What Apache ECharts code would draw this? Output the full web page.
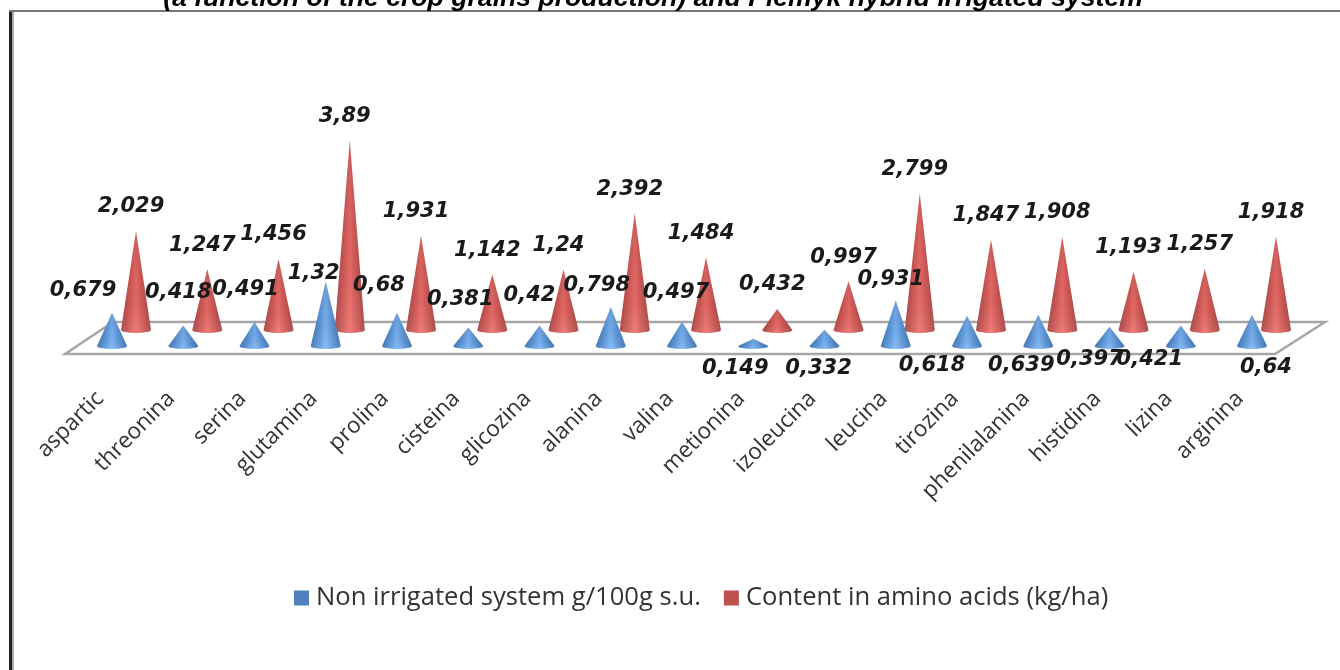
<!DOCTYPE html>
<html>
<head>
<meta charset="utf-8">
<title>amino acids</title>
<style>
	html,body{margin:0;padding:0;background:#fff;}
	#main{width:1340px;height:670px;filter:blur(0.5px);}
</style>
</head>
<body>
<div id="main"></div>
<script src="https://cdn.jsdelivr.net/npm/echarts@6/dist/echarts.min.js"></script>
<script>
var categories = ['aspartic','threonina','serina','glutamina','prolina','cisteina','glicozina','alanina','valina','metionina','izoleucina','leucina','tirozina','phenilalanina','histidina','lizina','arginina'];
var nonIrrigated = [0.679,0.418,0.491,1.32,0.68,0.381,0.42,0.798,0.497,0.149,0.332,0.931,0.618,0.639,0.397,0.421,0.64];
var aminoContent = [2.029,1.247,1.456,3.89,1.931,1.142,1.24,2.392,1.484,0.432,0.997,2.799,1.847,1.908,1.193,1.257,1.918];

// label offsets from the cone tip, picked by eye
var blueLabelDx = [-29,-5,-9,-12,-18,-8,-10,-14,-6,-18,-6,-5,-35,-17,-20,-31,14];
var blueLabelDy = [-22,-33,-32,-8,-27,-28,-30,-22,-29,30,39,-21,50,51,33,34,53];

var titleText = '(a function of the crop grains production) and Plemyk hybrid irrigated system';
var legendBlue = 'Non irrigated system g/100g s.u.';
var legendRed = 'Content in amino acids (kg/ha)';

function fmt(v){
	return String(v).replace('.', ',');
}

function coneItem(colors, dxList, dyList){
	return function(params, api){
		var i = api.value(0);
		var val = api.value(1);
		var tip = api.coord([i, val]);
		var base = api.coord([i, 0]);
		var w = 15, h = 3;
		var x = base[0], y = base[1];
		var path = 'M' + x + ' ' + tip[1] + 'L' + (x + w) + ' ' + y +
			'A' + w + ' ' + h + ' 0 0 1 ' + (x - w) + ' ' + y + 'Z';
		var side = new echarts.graphic.LinearGradient(0, 0, 1, 0, [
			{offset:0, color:colors[0]},
			{offset:0.5, color:colors[1]},
			{offset:1, color:colors[0]}
		]);
		var shade = new echarts.graphic.LinearGradient(0, 0, 0, 1, [
			{offset:0, color:'rgba(0,0,0,0.14)'},
			{offset:0.6, color:'rgba(0,0,0,0.06)'},
			{offset:1, color:'rgba(255,255,255,0.1)'}
		]);
		return {
			type:'group',
			children:[
				{type:'path', shape:{pathData:path}, style:{fill:side}},
				{type:'path', shape:{pathData:path}, style:{fill:shade}},
				{type:'text', z2:10, style:{
					text:fmt(val),
					x:x + dxList[i], y:tip[1] + dyList[i],
					align:'center', verticalAlign:'middle',
					font:'italic bold 21px "DejaVu Sans"',
					fill:'#1a1a1a'
				}}
			]
		};
	};
}

function rows(list){
	return list.map(function(v, i){ return [i, v]; });
}

var redDx = aminoContent.map(function(){ return -5; });
var redDy = aminoContent.map(function(){ return -24; });

var chart = echarts.init(document.getElementById('main'));
chart.setOption({
	animation:false,
	backgroundColor:'#fff',
	title:{
		text:titleText, left:648, top:-20, textAlign:'center',
		textStyle:{fontFamily:'Liberation Sans', fontStyle:'italic', fontWeight:'bold', fontSize:26.6, color:'#000'}
	},
	legend:{
		left:289, top:580, itemWidth:15, itemHeight:15, itemGap:23, icon:'rect',
		textStyle:{fontFamily:'Open Sans', fontSize:25.6, color:'#333', padding:[0,0,0,2]},
		data:[legendBlue, legendRed]
	},
	grid:[
		{left:76.4, top:102, width:1211.25, height:244},
		{left:100.4, top:86, width:1211.25, height:244}
	],
	xAxis:[
		{gridIndex:0, type:'category', data:categories,
			axisLine:{show:false}, axisTick:{show:false},
			axisLabel:{interval:0, rotate:45, margin:37, padding:[0,17,0,0], fontFamily:'Open Sans', fontSize:22.5, color:'#333'}},
		{gridIndex:1, type:'category', data:categories, show:false}
	],
	yAxis:[
		{gridIndex:0, type:'value', min:0, max:5, show:false, splitLine:{show:false}},
		{gridIndex:1, type:'value', min:0, max:5, show:false, splitLine:{show:false}}
	],
	series:[
		{name:legendRed, type:'custom', xAxisIndex:1, yAxisIndex:1, z:2, clip:false,
			itemStyle:{color:'#c0504d'},
			renderItem:coneItem(['#a83f3d','#f06e6a'], redDx, redDy), data:rows(aminoContent)},
		{name:legendBlue, type:'custom', xAxisIndex:0, yAxisIndex:0, z:3, clip:false,
			itemStyle:{color:'#4f81bd'},
			renderItem:coneItem(['#3a70b4','#7cb8fa'], blueLabelDx, blueLabelDy), data:rows(nonIrrigated)}
	],
	graphic:[
		// floor
		{type:'polygon', z:0, shape:{points:[[65,354],[113,322],[1325,322],[1275,354]]},
			style:{fill:'#fff', stroke:'#a6a6a6', lineWidth:2.5}},
		// picture frame
		{type:'rect', z:0, shape:{x:9,y:10,width:3,height:660}, style:{fill:'#222'}},
		{type:'rect', z:0, shape:{x:12,y:10,width:2,height:660}, style:{fill:'#aaa'}},
		{type:'rect', z:0, shape:{x:9,y:10,width:1331,height:2}, style:{fill:'#777'}}
	]
});
</script>
</body>
</html>
